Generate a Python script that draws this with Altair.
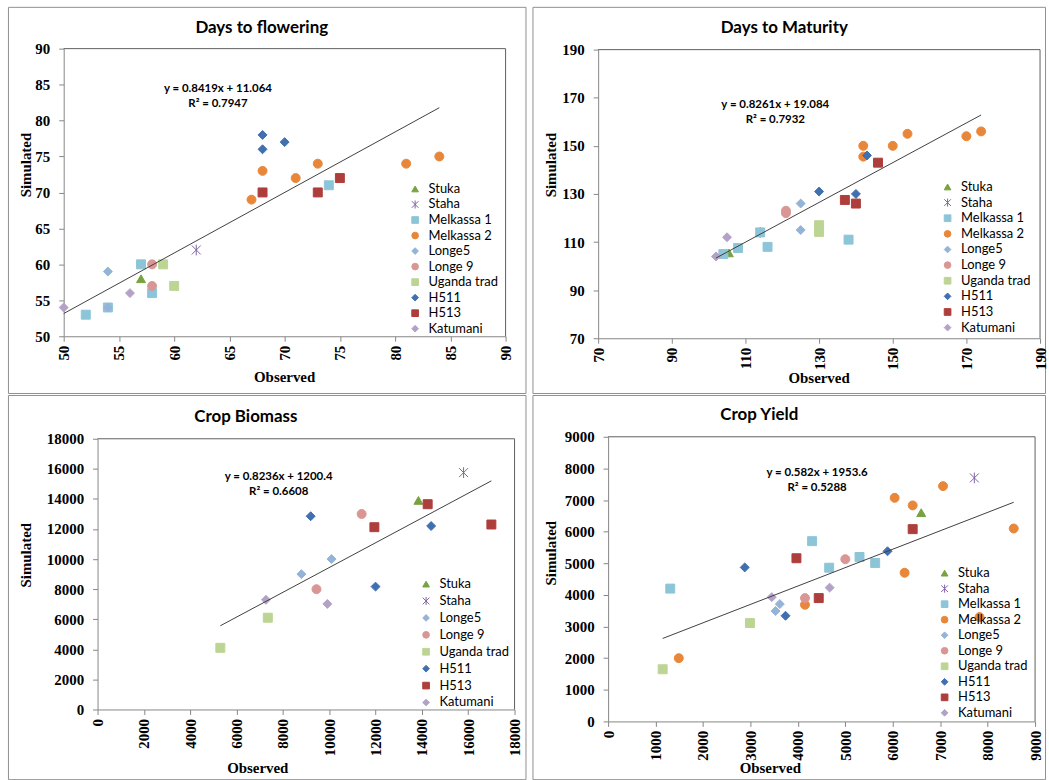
import altair as alt
import pandas as pd

# Varieties in series order, with their marker colour and shape
VARIETIES = ["Stuka", "Staha", "Melkassa 1", "Melkassa 2", "Longe5",
             "Longe 9", "Uganda trad", "H511", "H513", "Katumani"]
COLOURS = ["#77A23F", "#8064A2", "#8DC5D8", "#E8873A", "#95B3D7",
           "#D99694", "#BCD594", "#3F70B0", "#AE3E3B", "#B3A2C7"]
ASTERISK = "M-1,-1L1,1M-1,1L1,-1M0,-1.2L0,1.2"
SHAPES = ["triangle-up", ASTERISK, "square", "circle", "diamond",
          "circle", "square", "diamond", "square", "diamond"]

# ---- Days to flowering
flowering_variety = ["Stuka", "Staha",
                     "Melkassa 1", "Melkassa 1", "Melkassa 1", "Melkassa 1", "Melkassa 1",
                     "Melkassa 2", "Melkassa 2", "Melkassa 2", "Melkassa 2", "Melkassa 2", "Melkassa 2",
                     "Longe5", "Longe5", "Longe 9", "Longe 9", "Uganda trad", "Uganda trad",
                     "H511", "H511", "H511", "H513", "H513", "H513", "Katumani", "Katumani"]
flowering_observed = [57, 62, 57, 52, 54, 58, 74, 67, 68, 71, 73, 81, 84,
                      54, 54, 58, 58, 59, 60, 68, 68, 70, 68, 73, 75, 50, 56]
flowering_simulated = [58, 62, 60, 53, 54, 56, 71, 69, 73, 72, 74, 74, 75,
                       59, 54, 60, 57, 60, 57, 78, 76, 77, 70, 70, 72, 54, 56]

# ---- Days to maturity
maturity_variety = flowering_variety
maturity_observed = [105.5, 114, 104, 108, 114, 116, 138, 142, 142, 150, 154, 170, 174,
                     125, 125, 121, 121, 130, 130, 130, 140, 143, 137, 140, 146, 102, 105]
maturity_simulated = [105.5, 114, 105, 107.5, 114, 108, 111, 150, 145.5, 150, 155, 154, 156,
                      126, 115, 123, 122, 117, 114.2, 131, 130, 146, 127.5, 126, 143, 104, 112]

# ---- Crop biomass
biomass_variety = ["Stuka", "Staha", "Longe5", "Longe5", "Longe 9", "Longe 9",
                   "Uganda trad", "Uganda trad", "H511", "H511", "H511",
                   "H513", "H513", "H513", "Katumani", "Katumani"]
biomass_observed = [13850, 15800, 8800, 10100, 11400, 9450, 5300, 7350,
                    9200, 12000, 14400, 11950, 14250, 17000, 7270, 9920]
biomass_simulated = [13900, 15750, 9000, 10000, 13000, 8000, 4100, 6100,
                     12850, 8170, 12200, 12120, 13650, 12300, 7290, 7020]

# ---- Crop yield
yield_variety = ["Stuka", "Staha",
                 "Melkassa 1", "Melkassa 1", "Melkassa 1", "Melkassa 1", "Melkassa 1",
                 "Melkassa 2", "Melkassa 2", "Melkassa 2", "Melkassa 2",
                 "Melkassa 2", "Melkassa 2", "Melkassa 2", "Melkassa 2",
                 "Longe5", "Longe5", "Longe 9", "Longe 9", "Uganda trad", "Uganda trad",
                 "H511", "H511", "H511", "H513", "H513", "H513", "Katumani", "Katumani"]
yield_observed = [6600, 7720, 1310, 4300, 4660, 5300, 5630,
                  1490, 4150, 6040, 6250, 6420, 7060, 7830, 8550,
                  3530, 3620, 4150, 5000, 1150, 2990,
                  2880, 3740, 5890, 3970, 4440, 6420, 3450, 4670]
yield_simulated = [6600, 7700, 4200, 5700, 4860, 5200, 5010,
                   2000, 3690, 7070, 4700, 6830, 7440, 3300, 6100,
                   3490, 3710, 3900, 5130, 1650, 3110,
                   4870, 3340, 5380, 5160, 3900, 6080, 3930, 4230]

SANS = "Lato"
SERIF = "Liberation Serif"


def one_row():
    return pd.DataFrame({"k": [0]})


def label(text, x, y, size, font=SANS, angle=0):
    return alt.Chart(pd.DataFrame({"t": [text]})).mark_text(
        font=font, fontSize=size, fontWeight="bold", angle=angle, color="black",
        align="center", baseline="middle",
    ).encode(text="t:N", x=alt.value(x), y=alt.value(y))


def panel(title, variety, observed, simulated, slope, intercept, r2, eq_text,
          domain, step, size, plot, title_xy, ytitle_xy, xtitle_xy, eq_xy,
          legend_xy, row_pitch):
    """One chart-area panel; `size` is the whole panel, `plot` the inner plot box."""
    W, H = size
    L, T, w, h = plot
    df = pd.DataFrame({"variety": variety, "observed": observed, "simulated": simulated})
    present = [v for v in VARIETIES if v in set(variety)]
    colours = [COLOURS[VARIETIES.index(v)] for v in present]
    shapes = [SHAPES[VARIETIES.index(v)] for v in present]
    ticks = list(range(domain[0], domain[1] + 1, step))

    axis_style = dict(values=ticks, title=None, format="d",
                      labelOverlap=False, labelFlush=False)
    x_enc = alt.X("observed:Q",
                  scale=alt.Scale(domain=list(domain), range=[L, L + w], nice=False, zero=False),
                  axis=alt.Axis(labelAngle=270, offset=-(H - T - h), **axis_style))
    y_enc = alt.Y("simulated:Q",
                  scale=alt.Scale(domain=list(domain), range=[T + h, T], nice=False, zero=False),
                  axis=alt.Axis(offset=-L, **axis_style))

    legend = alt.Legend(title=None, orient="none",
                        legendX=legend_xy[0] - 3.4, legendY=legend_xy[1] - 5.5,
                        rowPadding=row_pitch - 14)

    points = alt.Chart(df).mark_point(filled=True, size=81, opacity=1, strokeWidth=1).encode(
        x=x_enc,
        y=y_enc,
        color=alt.Color("variety:N", sort=present,
                        scale=alt.Scale(domain=present, range=colours), legend=legend),
        stroke=alt.Stroke("variety:N", sort=present,
                          scale=alt.Scale(domain=present, range=colours), legend=legend),
        shape=alt.Shape("variety:N", sort=present,
                        scale=alt.Scale(domain=present, range=shapes), legend=legend),
    )

    lo, hi = min(observed), max(observed)
    trend = pd.DataFrame({"observed": [lo, hi],
                          "simulated": [slope * lo + intercept, slope * hi + intercept]})
    line = alt.Chart(trend).mark_line(color="#404040", strokeWidth=1).encode(x=x_enc, y=y_enc)

    # top and right edges of the plot-area border (left/bottom are the axis lines)
    border_top = alt.Chart(one_row()).mark_rule(color="#5f5f5f", strokeWidth=1).encode(
        x=alt.value(L), x2=alt.value(L + w), y=alt.value(T))
    border_right = alt.Chart(one_row()).mark_rule(color="#5f5f5f", strokeWidth=1).encode(
        x=alt.value(L + w), y=alt.value(T), y2=alt.value(T + h))

    return alt.layer(
        points,
        line,
        border_top,
        border_right,
        label(eq_text, eq_xy[0], eq_xy[1], 11.5),
        label(f"R\u00b2 = {r2}", eq_xy[0], eq_xy[1] + 15, 11.5),
        label(title, title_xy[0], title_xy[1], 17),
        label("Simulated", ytitle_xy[0], ytitle_xy[1], 15, font=SERIF, angle=270),
        label("Observed", xtitle_xy[0], xtitle_xy[1], 15, font=SERIF),
    ).properties(width=W, height=H)


flowering = panel("Days to flowering", flowering_variety, flowering_observed,
                  flowering_simulated, 0.8419, 11.064, "0.7947", "y = 0.8419x + 11.064",
                  (50, 90), 5, (520, 388), (56, 42, 444, 289),
                  (255, 21), (18, 159), (278, 372), (211, 83), (406, 182), 15.6)

maturity = panel("Days to Maturity", maturity_variety, maturity_observed,
                 maturity_simulated, 0.8261, 19.084, "0.7932", "y = 0.8261x + 19.084",
                 (70, 190), 20, (515, 388), (66, 43, 444, 290),
                 (253, 21), (19, 159), (288, 373), (244, 99), (414, 180), 15.7)

biomass = panel("Crop Biomass", biomass_variety, biomass_observed,
                biomass_simulated, 0.8236, 1200.4, "0.6608", "y = 0.8236x + 1200.4",
                (0, 18000), 2000, (520, 386), (90, 44, 419, 272),
                (239, 22), (18, 161), (251, 375), (272, 82), (417, 189), 17)

crop_yield = panel("Crop Yield", yield_variety, yield_observed,
                   yield_simulated, 0.582, 1953.6, "0.5288", "y = 0.582x + 1953.6",
                   (0, 9000), 1000, (515, 386), (76, 42, 429, 286),
                   (228, 20), (19, 159), (239, 375), (286, 78), (411, 178), 15.6)

independent = dict(color="independent", shape="independent", stroke="independent",
                   x="independent", y="independent")

top_row = alt.hconcat(flowering, maturity, spacing=5).resolve_scale(**independent)
bottom_row = alt.hconcat(biomass, crop_yield, spacing=5).resolve_scale(**independent)

chart = alt.vconcat(top_row, bottom_row, spacing=0).resolve_scale(**independent).properties(
    padding={"left": 7, "top": 4, "right": 0, "bottom": 0},
    background="white",
).configure_view(
    stroke="#8f8f8f", strokeWidth=1,
).configure_axis(
    grid=False, domainColor="#868686", tickColor="#868686", tickSize=5,
    labelFont=SERIF, labelFontWeight="bold", labelFontSize=15, labelColor="black",
).configure_axisX(
    labelPadding=4,
).configure_axisY(
    labelPadding=9,
).configure_legend(
    labelFont=SANS, labelFontSize=13, labelColor="black", symbolSize=45,
    symbolStrokeWidth=1, padding=0, labelOffset=7,
)

chart.save("out.html", embed_options={"renderer": "svg", "actions": False})
